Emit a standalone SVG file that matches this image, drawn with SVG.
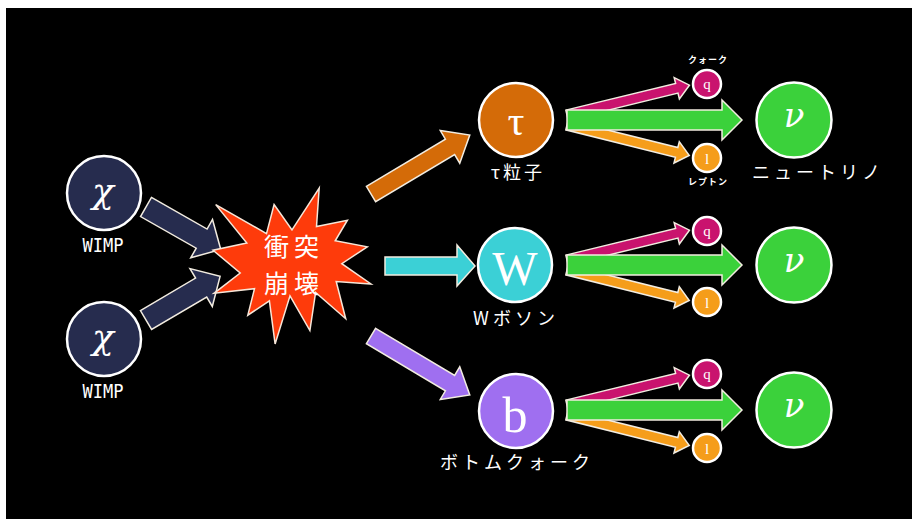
<svg xmlns="http://www.w3.org/2000/svg" width="912" height="519" viewBox="0 0 912 519">
<defs>
<style>
.arrow{stroke:#f2ece0;stroke-width:1.5;stroke-linejoin:miter}
.node{stroke:#ffffff;stroke-width:2.5}
.sym{font-family:"Liberation Serif","DejaVu Serif",serif;fill:#ffffff;text-anchor:middle}
.greek{font-family:"DejaVu Serif","Liberation Serif",serif;font-style:italic;fill:#ffffff;text-anchor:middle}
.lbl{font-family:"Noto Sans CJK JP",sans-serif;fill:#ffffff;text-anchor:middle}
.mono{font-family:"DejaVu Sans Mono","Liberation Mono",monospace;fill:#ffffff;text-anchor:middle}
.navy{fill:#262c4e}
.green{fill:#3bd13b}
.mag{fill:#c9136e}
.org{fill:#f59d1a}
</style>
</defs>
<rect x="0" y="0" width="912" height="519" fill="#ffffff"/>
<rect x="6" y="8" width="906" height="511" fill="#000000"/>

<g id="connectors">
  <polygon class="arrow navy" transform="translate(146,207) rotate(29.6)" points="0,-11 64,-11 64,-22 86,0 64,22 64,11 0,11"/>
  <polygon class="arrow navy" transform="translate(146,320) rotate(-30.5)" points="0,-11 64,-11 64,-22 86,0 64,22 64,11 0,11"/>
  <polygon class="arrow" fill="#d46b08" transform="translate(371,194) rotate(-30.8)" points="0,-9 92,-9 92,-19 115,0 92,19 92,9 0,9"/>
  <polygon class="arrow" fill="#3bd0d6" points="385,257 457,257 457,245 475,266 457,286 457,275 385,275"/>
  <polygon class="arrow" fill="#9f6ff0" transform="translate(371,336) rotate(30.8)" points="0,-9 92,-9 92,-19 115,0 92,19 92,9 0,9"/>
  <polygon class="arrow mag" transform="translate(567,115) rotate(-13.7)" points="0,-5 113,-5 113,-11 126,0 113,11 113,5 0,5"/>
  <polygon class="arrow org" transform="translate(567,125) rotate(14)" points="0,-5 113,-5 113,-11 126,0 113,11 113,5 0,5"/>
  <polygon class="arrow green" points="567,110 722,110 722,100 742,120 722,140 722,130 567,130"/>
  <polygon class="arrow mag" transform="translate(567,260) rotate(-13.7)" points="0,-5 113,-5 113,-11 126,0 113,11 113,5 0,5"/>
  <polygon class="arrow org" transform="translate(567,270) rotate(14)" points="0,-5 113,-5 113,-11 126,0 113,11 113,5 0,5"/>
  <polygon class="arrow green" points="567,255 722,255 722,245 742,265 722,285 722,275 567,275"/>
  <polygon class="arrow mag" transform="translate(567,405) rotate(-13.7)" points="0,-5 113,-5 113,-11 126,0 113,11 113,5 0,5"/>
  <polygon class="arrow org" transform="translate(567,415) rotate(14)" points="0,-5 113,-5 113,-11 126,0 113,11 113,5 0,5"/>
  <polygon class="arrow green" points="567,400 722,400 722,390 742,410 722,430 722,420 567,420"/>
</g>

<g id="wimp1">
  <circle class="node navy" cx="104" cy="193" r="37"/>
  <text class="greek" x="103" y="203" font-size="36">χ</text>
  <text class="mono" x="103" y="252" font-size="20" textLength="41" lengthAdjust="spacingAndGlyphs">WIMP</text>
</g>
<g id="wimp2">
  <circle class="node navy" cx="104" cy="339" r="37"/>
  <text class="greek" x="103" y="349" font-size="36">χ</text>
  <text class="mono" x="103" y="398" font-size="20" textLength="41" lengthAdjust="spacingAndGlyphs">WIMP</text>
</g>

<g id="collision">
  <polygon fill="#fe3b0b" stroke="#f6e6d8" stroke-width="1.5" points="292,229.9 319.2,188 316.5,226.5 347.4,220.2 335.2,240.8 367.3,246.8 341.8,263.7 371,284 336.2,281.5 345.7,318.7 315.6,292.4 309.9,330.5 290,295.9 275.1,344 269.4,300.9 247.8,315.2 254.5,288.7 214,293.3 240.2,273 213,250.2 246.8,243 215.7,204.6 266.5,233.6 274.1,204.6"/>
  <text class="lbl" x="294" y="256" font-size="25" letter-spacing="5">衝突</text>
  <text class="lbl" x="294" y="293" font-size="25" letter-spacing="5">崩壊</text>
</g>

<g id="tau">
  <circle class="node" fill="#d46b08" cx="516" cy="120" r="37"/>
  <text class="sym" x="516" y="135" font-size="42">τ</text>
  <text class="lbl" x="518" y="179" font-size="18" letter-spacing="3">τ粒子</text>
</g>
<g id="wboson">
  <circle class="node" fill="#3bd0d6" cx="515" cy="265" r="37"/>
  <text class="sym" x="515" y="285" font-size="48">W</text>
  <text class="lbl" x="516" y="325" font-size="18" letter-spacing="4">Wボソン</text>
</g>
<g id="bquark">
  <circle class="node" fill="#9f6ff0" cx="516" cy="411" r="37"/>
  <text class="sym" x="515" y="432" font-size="50">b</text>
  <text class="lbl" x="517" y="469" font-size="18" letter-spacing="4">ボトムクォーク</text>
</g>

<g id="q1">
  <circle class="node mag" cx="707" cy="84" r="14" stroke-width="1.5"/>
  <text class="sym" x="707" y="89" font-size="15">q</text>
  <text class="lbl" x="708" y="63" font-size="9" font-weight="bold" letter-spacing="1">クォーク</text>
</g>
<g id="l1">
  <circle class="node org" cx="707" cy="158" r="14" stroke-width="1.5"/>
  <text class="sym" x="707" y="164" font-size="15">l</text>
  <text class="lbl" x="708" y="185" font-size="9" font-weight="bold" letter-spacing="1">レプトン</text>
</g>
<g id="nu1">
  <circle class="node green" cx="794" cy="120" r="37.5"/>
  <text class="greek" x="794" y="127" font-size="34">ν</text>
  <text class="lbl" x="818" y="179" font-size="18" letter-spacing="4">ニュートリノ</text>
</g>

<g id="q2">
  <circle class="node mag" cx="707" cy="231" r="14" stroke-width="1.5"/>
  <text class="sym" x="707" y="236" font-size="15">q</text>
</g>
<g id="l2">
  <circle class="node org" cx="707" cy="302" r="14" stroke-width="1.5"/>
  <text class="sym" x="707" y="308" font-size="15">l</text>
</g>
<g id="nu2">
  <circle class="node green" cx="794" cy="265" r="37.5"/>
  <text class="greek" x="794" y="272" font-size="34">ν</text>
</g>

<g id="q3">
  <circle class="node mag" cx="707" cy="374" r="14" stroke-width="1.5"/>
  <text class="sym" x="707" y="379" font-size="15">q</text>
</g>
<g id="l3">
  <circle class="node org" cx="707" cy="448" r="14" stroke-width="1.5"/>
  <text class="sym" x="707" y="454" font-size="15">l</text>
</g>
<g id="nu3">
  <circle class="node green" cx="794" cy="410" r="37.5"/>
  <text class="greek" x="794" y="417" font-size="34">ν</text>
</g>
</svg>
